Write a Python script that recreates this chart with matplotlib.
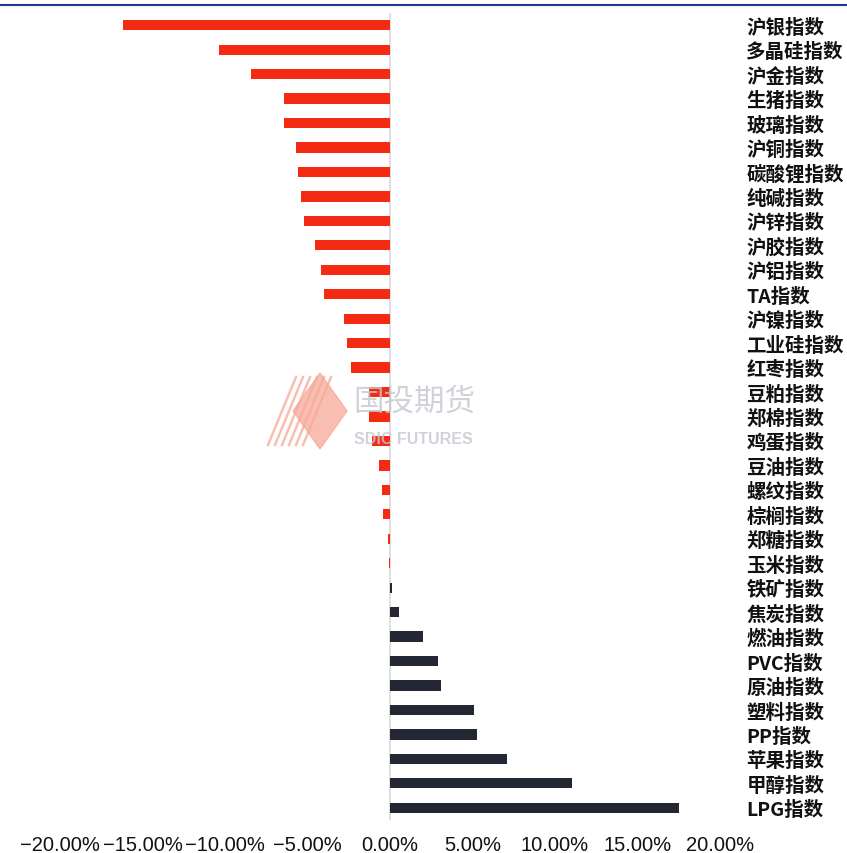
import numpy as np
import matplotlib.pyplot as plt
from matplotlib.patches import Polygon
from matplotlib.lines import Line2D

# categories from top to bottom, change in percent
names = ["沪银指数", "多晶硅指数", "沪金指数", "生猪指数", "玻璃指数", "沪铜指数",
         "碳酸锂指数", "纯碱指数", "沪锌指数", "沪胶指数", "沪铝指数", "TA指数",
         "沪镍指数", "工业硅指数", "红枣指数", "豆粕指数", "郑棉指数", "鸡蛋指数",
         "豆油指数", "螺纹指数", "棕榈指数", "郑糖指数", "玉米指数", "铁矿指数",
         "焦炭指数", "燃油指数", "PVC指数", "原油指数", "塑料指数", "PP指数",
         "苹果指数", "甲醇指数", "LPG指数"]
values = [-16.2, -10.35, -8.4, -6.4, -6.4, -5.7,
          -5.55, -5.4, -5.2, -4.55, -4.2, -4.0,
          -2.8, -2.6, -2.35, -1.3, -1.3, -1.1,
          -0.65, -0.5, -0.4, -0.1, -0.05, 0.15,
          0.55, 2.0, 2.9, 3.1, 5.1, 5.3,
          7.1, 11.0, 17.5]
xticks = [-20, -15, -10, -5, 0, 5, 10, 15, 20]

red = "#f52a12"
dark = "#232733"

plt.rcParams['font.family'] = ['Liberation Sans', 'Noto Sans CJK SC', 'DejaVu Sans']

fig = plt.figure(figsize=(8.47, 8.54), dpi=100)
ax = fig.add_axes([60/847, 1-821/854, 660/847, 807/854])

n = len(names)
y = np.arange(n)
colors = [red if v < 0 else dark for v in values]
ax.barh(y, values, height=0.42, color=colors, zorder=3)
ax.axvline(0, color="#d9d9d9", lw=1.2, zorder=2)

ax.set_xlim(-20, 20)
ax.set_ylim(n - 0.5, -0.5)
ax.set_xticks(xticks)
ax.set_xticklabels(["\u2212%.2f%%" % -t if t < 0 else "%.2f%%" % t for t in xticks],
                   fontsize=14.5, color="#111111")
ax.tick_params(axis='x', length=0, pad=11)
ax.yaxis.tick_right()
ax.set_yticks(y)
ax.set_yticklabels(names, fontsize=14, family=['Noto Sans CJK SC', 'DejaVu Sans'],
                   fontweight='bold', color="#111111")
ax.tick_params(axis='y', length=0, pad=19)
for s in ax.spines.values():
    s.set_visible(False)

# header rule at the top
fig.add_artist(Line2D([0, 1], [1-6/854, 1-6/854], color="#1f3a8a", lw=1.5))

# watermark logo
def fx(px):
    return px / 847
def fy(py):
    return 1 - py / 854
fig.add_artist(Polygon([(fx(320), fy(374)), (fx(347), fy(412)), (fx(320), fy(450)),
                        (fx(293), fy(412))], closed=True, color="#f7a899",
                       alpha=0.75, transform=fig.transFigure, zorder=1))
for k in range(6):
    x0 = 268 + k * 7
    fig.add_artist(Line2D([fx(x0), fx(x0 + 28)], [fy(446), fy(378)],
                          color="#f7a899", lw=1.8, alpha=0.75))
fig.text(fx(353), fy(402), "国投期货", fontsize=22, color="#c4c7cf", alpha=0.8,
         va='center', ha='left', family=['Noto Sans CJK SC'], zorder=1)
fig.text(fx(354), fy(440), "SDIC FUTURES", fontsize=11.5, color="#c4c7cf", alpha=0.8,
         va='center', ha='left', fontweight='bold', zorder=1)

fig.savefig("out.png", dpi=100)
